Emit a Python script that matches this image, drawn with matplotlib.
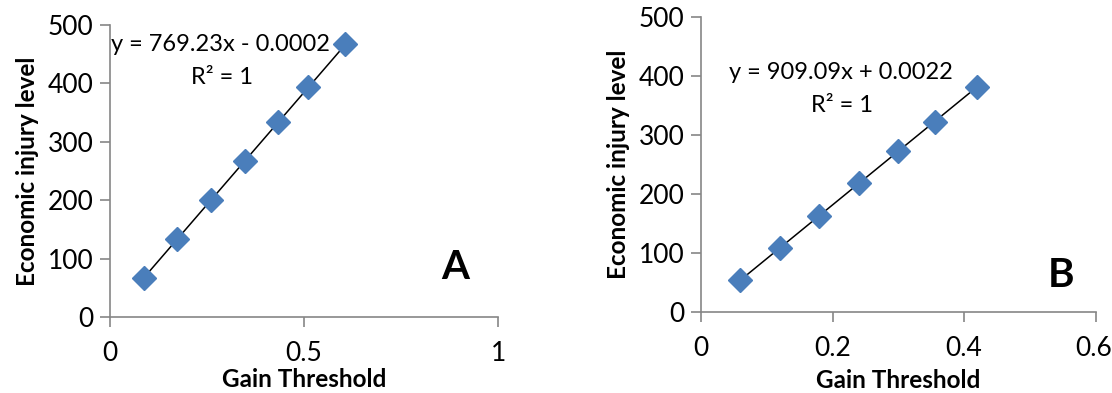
import numpy as np
import matplotlib
matplotlib.use("Agg")
import matplotlib.pyplot as plt
import matplotlib.transforms as mtrans

plt.rcParams['font.family'] = ['Lato', 'DejaVu Sans']

# panel A data
gain_a = [0.0867, 0.1733, 0.26, 0.3467, 0.4333, 0.511, 0.6067]
eil_a = [66.7, 133.3, 200.0, 266.7, 333.3, 393.0, 466.7]
# panel B data
gain_b = [0.06, 0.12, 0.18, 0.24, 0.30, 0.355, 0.42]
eil_b = [54.5, 109.1, 163.6, 218.2, 272.7, 322.7, 381.8]

xticks_a = [0, 0.5, 1]
xticks_b = [0, 0.2, 0.4, 0.6]
yticks = [0, 100, 200, 300, 400, 500]

blue = '#4A7EBB'
grey = '#868686'

fig = plt.figure(figsize=(11.12, 3.93), dpi=100)
ax_a = fig.add_axes([0.0989, 0.1934, 0.349, 0.743])
ax_b = fig.add_axes([0.6304, 0.2053, 0.355, 0.752])


def draw(ax, x, y, xticks, xlim, eq, eq_pos, r2_pos, letter, letter_pos, xpad):
    x = np.array(x)
    y = np.array(y)
    slope, icpt = np.polyfit(x, y, 1)
    xs = np.array([x.min(), x.max()])
    ax.plot(xs, slope * xs + icpt, color='black', lw=1.1, zorder=2)
    ax.plot(x, y, ls='none', marker='D', ms=12, color=blue, mec=blue, zorder=3)
    ax.set_xlim(*xlim)
    ax.set_ylim(0, 500)
    ax.set_xticks(xticks)
    ax.set_xticklabels([('%g' % t) for t in xticks])
    ax.set_yticks(yticks)
    for s in ['top', 'right']:
        ax.spines[s].set_visible(False)
    for s in ['left', 'bottom']:
        ax.spines[s].set_color(grey)
        ax.spines[s].set_linewidth(1.2)
    ax.tick_params(direction='out', length=7, width=1.2, color=grey,
                   labelsize=19, pad=5)
    ax.tick_params(axis='x', pad=10)
    ax.set_xlabel('Gain Threshold', fontsize=17.5, fontweight='bold', labelpad=xpad)
    ax.set_ylabel('Economic injury level', fontsize=17.5, fontweight='bold', labelpad=6)
    ax.text(eq_pos[0], eq_pos[1], eq, transform=ax.transAxes, fontsize=17,
            ha='center', va='center')
    ax.text(r2_pos[0], r2_pos[1], 'R² = 1', transform=ax.transAxes, fontsize=17,
            ha='center', va='center')
    ax.text(letter_pos[0], letter_pos[1], letter, transform=ax.transAxes,
            fontsize=29, fontweight='bold', ha='center', va='center')


draw(ax_a, gain_a, eil_a, xticks_a, (0, 1), 'y = 769.23x - 0.0002',
     (0.284, 0.932), (0.289, 0.82), 'A', (0.89, 0.17), 2)
draw(ax_b, gain_b, eil_b, xticks_b, (0, 0.6), 'y = 909.09x + 0.0022',
     (0.354, 0.813), (0.357, 0.70), 'B', (0.912, 0.123), 6)

# last tick label sits right at the figure edge, nudge it in a touch
lab = ax_b.get_xticklabels()[-1]
lab.set_ha('right')
lab.set_transform(lab.get_transform() + mtrans.ScaledTranslation(16 / 100, 0, fig.dpi_scale_trans))

fig.savefig('out.png', dpi=100)
